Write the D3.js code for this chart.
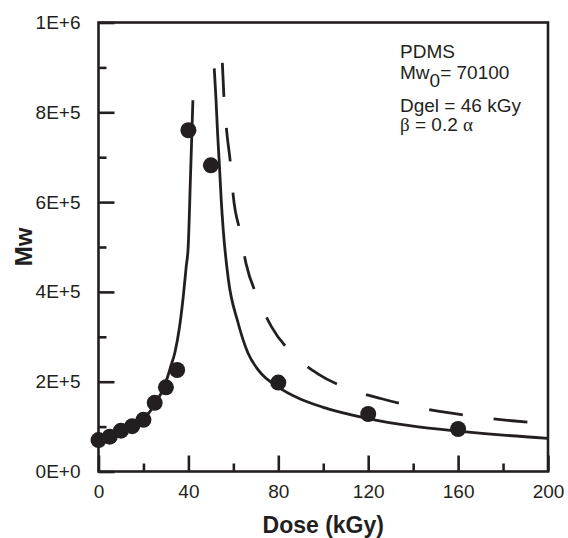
<!DOCTYPE html>
<meta charset="utf-8">
<style>
body { margin: 0; background: #fff; }
text { font-family: "Liberation Sans", Arial, sans-serif; fill: #231f20; }
.axis text { font-size: 19px; }
.axis path { display: none; }
.axis line { stroke: #231f20; stroke-width: 2.6px; }
.frame { fill: none; stroke: #231f20; stroke-width: 2.6px; }
.fit { fill: none; stroke: #231f20; stroke-width: 2.8px; }
.fit-dash { stroke-dasharray: 34, 31; }
.dot { fill: #231f20; }
.title { font-size: 23px; font-weight: bold; }
.note { font-size: 19px; }
</style>
<svg width="568" height="538"></svg>
<script src="https://d3js.org/d3.v7.min.js"></script>
<script>

// measured points
var doses = [0, 5, 10, 15, 20, 25, 30, 35, 40, 50, 80, 120, 160];
var mwMeasured = [70000, 77500, 91000, 101000, 115000, 153000, 187500, 226000, 760000, 682000, 198000, 128000, 94700];

// fit before gel point (solid)
var preDose = [0, 5, 10, 15, 20, 25, 30, 31, 32, 34, 36, 37.7, 39, 39.9, 41, 42];
var preMw = [70000, 78000, 88000, 100000, 118000, 148000, 200000, 215000, 232000, 265000, 320000, 389000, 455000, 500000, 668000, 827000];

// fit after gel point (solid)
var postDose = [51.5, 52.3, 53, 53.8, 54.6, 55.5, 57.8, 62, 66.5, 71.4, 80, 90, 100, 120, 140, 160, 180, 200];
var postMw = [898000, 827000, 752000, 682000, 605000, 538000, 427000, 333000, 264000, 224000, 188000, 161000, 143000, 118000, 101000, 90000, 81000, 74000];

// second fit (dashed)
var dashDose = [55.1, 55.8, 57, 58.8, 60, 63, 65.6, 70.7, 77, 86.4, 97.8, 111.9, 126, 140.8, 154, 169.7, 184, 200];
var dashMw = [910000, 835000, 760000, 682000, 612000, 534000, 464000, 389000, 322000, 262000, 217000, 183000, 162000, 144000, 132000, 121000, 113000, 106000];

var xMajor = [0, 40, 80, 120, 160, 200];
var xMinor = [20, 60, 100, 140, 180];
var yMajor = [0, 200000, 400000, 600000, 800000, 1000000];
var yMajorLabels = ["0E+0", "2E+5", "4E+5", "6E+5", "8E+5", "1E+6"];
var yMinor = [100000, 300000, 500000, 700000, 900000];

var svg = d3.select("svg"),
    margin = {top: 22.5, right: 20, bottom: 66.5, left: 98.5},
    width = +svg.attr("width") - margin.left - margin.right,
    height = +svg.attr("height") - margin.top - margin.bottom;

var x = d3.scaleLinear().domain([0, 200]).range([0, width]),
    y = d3.scaleLinear().domain([0, 1000000]).range([height, 0]);

var g = svg.append("g")
    .attr("transform", "translate(" + margin.left + "," + margin.top + ")");

function pts(xs, ys) {
  return xs.map(function(d, i) { return [d, ys[i]]; });
}

var line = d3.line()
    .x(function(d) { return x(d[0]); })
    .y(function(d) { return y(d[1]); })
    .curve(d3.curveMonotoneX);

g.append("path").attr("class", "fit").attr("d", line(pts(preDose, preMw)));
g.append("path").attr("class", "fit").attr("d", line(pts(postDose, postMw)));
g.append("path").attr("class", "fit fit-dash").attr("d", line(pts(dashDose, dashMw)));

g.selectAll(".dot")
  .data(pts(doses, mwMeasured))
  .enter().append("circle")
    .attr("class", "dot")
    .attr("cx", function(d) { return x(d[0]); })
    .attr("cy", function(d) { return y(d[1]); })
    .attr("r", 8);

// axes, ticks pointing inwards
g.append("g")
    .attr("class", "axis")
    .attr("transform", "translate(0," + height + ")")
    .call(d3.axisBottom(x).tickValues(xMajor).tickSize(-16).tickSizeOuter(0).tickPadding(13)
      .tickFormat(d3.format("d")));

g.append("g")
    .attr("class", "axis")
    .attr("transform", "translate(0," + height + ")")
    .call(d3.axisBottom(x).tickValues(xMinor).tickSize(-8).tickSizeOuter(0).tickFormat(""));

g.append("g")
    .attr("class", "axis")
    .call(d3.axisLeft(y).tickValues(yMajor).tickSize(-16).tickSizeOuter(0).tickPadding(18)
      .tickFormat(function(d, i) { return yMajorLabels[i]; }));

g.append("g")
    .attr("class", "axis")
    .call(d3.axisLeft(y).tickValues(yMinor).tickSize(-8).tickSizeOuter(0).tickFormat(""));

g.selectAll(".axis text").attr("fill", "#231f20");

g.append("rect")
    .attr("class", "frame")
    .attr("width", width)
    .attr("height", height);

// axis titles
svg.append("text")
    .attr("class", "title")
    .attr("x", margin.left + width / 2)
    .attr("y", 532.5)
    .attr("text-anchor", "middle")
    .text("Dose (kGy)");

svg.append("text")
    .attr("class", "title")
    .attr("transform", "translate(32," + (margin.top + height / 2) + ") rotate(-90)")
    .attr("text-anchor", "middle")
    .style("font-size", "24px")
    .text("Mw");

// annotation
var note = svg.append("g").attr("class", "note");
note.append("text").attr("x", 400).attr("y", 58).text("PDMS");
var t2 = note.append("text").attr("x", 400).attr("y", 79);
t2.append("tspan").text("Mw");
t2.append("tspan").attr("dy", 8).text("0");
t2.append("tspan").attr("dy", -8).text("= 70100");
note.append("text").attr("x", 400).attr("y", 111.5).text("Dgel = 46 kGy");
var t4 = note.append("text").attr("x", 400).attr("y", 131);
t4.append("tspan").style("font-family", "'Liberation Serif', serif").text("\u03b2");
t4.append("tspan").text(" = 0.2 ");
t4.append("tspan").style("font-family", "'Liberation Serif', serif").text("\u03b1");

</script>
